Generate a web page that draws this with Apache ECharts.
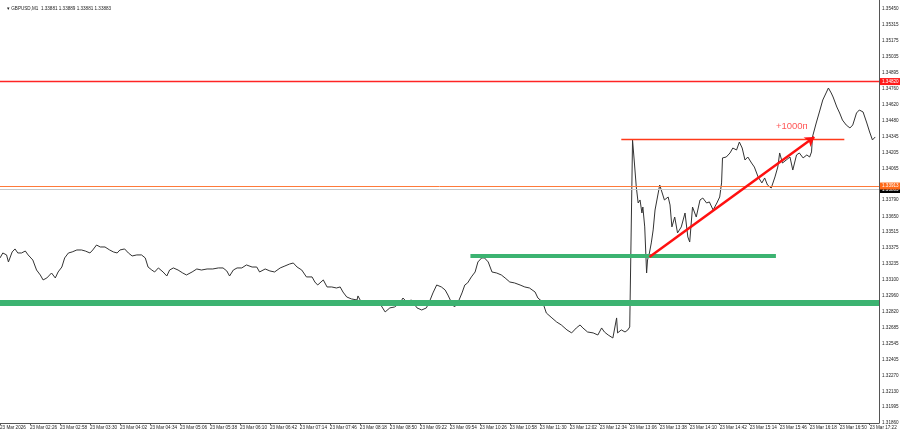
<!DOCTYPE html>
<html><head><meta charset="utf-8">
<script src="https://cdn.jsdelivr.net/npm/echarts@6/dist/echarts.min.js"></script>
<style>html,body{margin:0;padding:0;background:#fff}#c{width:900px;height:432px}</style>
</head><body><div id="c"></div>
<script>
const startTime = "01:54";
const dayLabel = "23 Mar";
const firstLabel = "23 Mar 2026";
const titleText = "\u25BE GBPUSD,M1  1.33881 1.33889 1.33881 1.33883";

const times = ["01:54","01:57","02:01","02:03","02:07","02:10","02:13","02:17","02:21","02:24","02:29","02:33","02:37","02:40","02:44","02:49","02:53","02:56","03:00","03:03","03:07","03:11","03:16","03:21","03:25","03:30","03:33","03:37","03:41","03:46","03:51","03:55","03:59","04:02","04:07","04:11","04:15","04:20","04:25","04:29","04:32","04:36","04:39","04:43","04:48","04:52","04:55","04:59","05:04","05:09","05:13","05:19","05:24","05:29","05:35","05:41","05:47","05:52","05:56","05:59","06:03","06:07","06:12","06:17","06:23","06:28","06:31","06:37","06:42","06:47","06:53","06:58","07:03","07:07","07:11","07:16","07:21","07:27","07:30","07:33","07:39","07:43","07:48","07:53","07:57","08:00","08:04","08:09","08:15","08:16","08:20","08:23","08:29","08:34","08:39","08:45","08:50","08:55","09:01","09:04","09:08","09:13","09:19","09:24","09:29","09:33","09:36","09:40","09:45","09:49","09:52","09:56","09:59","10:03","10:07","10:10","10:13","10:17","10:21","10:24","10:28","10:31","10:35","10:39","10:44","10:49","10:53","10:58","11:03","11:09","11:14","11:19","11:25","11:28","11:33","11:37","11:43","11:48","11:53","11:59","12:04","12:09","12:13","12:16","12:21","12:27","12:32","12:36","12:39","12:43","12:48","12:52","12:53","12:57","13:01","13:04","13:06","13:08","13:09","13:11","13:13","13:15","13:17","13:19","13:20","13:22","13:24","13:25","13:27","13:29","13:31","13:33","13:35","13:38","13:40","13:43","13:47","13:49","13:51","13:54","13:57","14:01","14:05","14:08","14:10","14:13","14:17","14:21","14:24","14:28","14:31","14:35","14:39","14:42","14:44","14:45","14:49","14:53","14:56","15:00","15:03","15:06","15:09","15:12","15:16","15:19","15:23","15:27","15:30","15:33","15:37","15:41","15:44","15:46","15:49","15:53","15:57","16:00","16:04","16:07","16:11","16:15","16:18","16:20","16:21","16:25","16:29","16:32","16:36","16:38","16:41","16:43","16:47","16:50","16:53","16:57","17:01","17:04","17:08","17:11","17:15","17:19","17:22","17:25","17:28"];

const prices = [1.33289,1.33332,1.33315,1.33254,1.33341,1.33367,1.33332,1.33332,1.33349,1.33315,1.33271,1.33184,1.33141,1.33098,1.33115,1.33158,1.33115,1.33167,1.33210,1.33289,1.33332,1.33341,1.33358,1.33358,1.33349,1.33332,1.33358,1.33401,1.33384,1.33384,1.33358,1.33341,1.33332,1.33358,1.33367,1.33332,1.33306,1.33315,1.33315,1.33289,1.33210,1.33184,1.33167,1.33202,1.33167,1.33132,1.33184,1.33202,1.33184,1.33158,1.33141,1.33167,1.33193,1.33184,1.33193,1.33193,1.33202,1.33202,1.33176,1.33132,1.33184,1.33202,1.33202,1.33228,1.33210,1.33210,1.33167,1.33193,1.33176,1.33167,1.33202,1.33219,1.33236,1.33245,1.33210,1.33184,1.33124,1.33124,1.33080,1.33054,1.33098,1.33037,1.33037,1.33028,1.33037,1.32993,1.32950,1.32933,1.32924,1.32959,1.32898,1.32907,1.32907,1.32915,1.32898,1.32820,1.32855,1.32863,1.32898,1.32941,1.32907,1.32924,1.32855,1.32837,1.32855,1.32924,1.32985,1.33054,1.33037,1.33011,1.32967,1.32898,1.32863,1.32907,1.32985,1.33054,1.33072,1.33124,1.33167,1.33254,1.33289,1.33289,1.33254,1.33167,1.33158,1.33141,1.33115,1.33080,1.33072,1.33054,1.33037,1.33028,1.32993,1.32941,1.32907,1.32811,1.32768,1.32733,1.32707,1.32664,1.32638,1.32681,1.32707,1.32681,1.32646,1.32638,1.32620,1.32681,1.32646,1.32620,1.32594,1.32768,1.32638,1.32664,1.32646,1.32664,1.32690,1.33766,1.34313,1.34113,1.33905,1.33766,1.33792,1.33679,1.33731,1.33558,1.33158,1.33271,1.33332,1.33419,1.33532,1.33705,1.33792,1.33922,1.33905,1.33792,1.33818,1.33749,1.33558,1.33644,1.33506,1.33558,1.33679,1.33471,1.33427,1.33731,1.33644,1.33792,1.33809,1.33766,1.33775,1.33705,1.33766,1.33818,1.33940,1.34157,1.34165,1.34200,1.34243,1.34226,1.34295,1.34243,1.34139,1.34165,1.34113,1.34078,1.33992,1.33940,1.33983,1.33922,1.33896,1.33992,1.34078,1.34200,1.34113,1.34139,1.34165,1.34052,1.34183,1.34200,1.34157,1.34183,1.34165,1.34209,1.34339,1.34460,1.34573,1.34660,1.34729,1.34764,1.34721,1.34686,1.34599,1.34547,1.34486,1.34443,1.34417,1.34443,1.34547,1.34573,1.34556,1.34460,1.34382,1.34313,1.34339];

const yTicks = [1.35450,1.35315,1.35175,1.35035,1.34895,1.34760,1.34620,1.34480,1.34345,1.34205,1.34065,1.33790,1.33650,1.33515,1.33375,1.33235,1.33100,1.32960,1.32820,1.32685,1.32545,1.32405,1.32270,1.32130,1.31995,1.31860];
const xStep = 32;
const yMin = 1.31856, yMax = 1.35528, xMax = 938;

const redLevel = 1.34820;
const orangeLevel = 1.33913;
const bidLevel = 1.33883;
const greenLevel = 1.32902;
const greenShort = ["10:16", "15:42", 1.33306];
const redShort = ["12:57", "16:55", 1.34319];
const arrowFrom = ["13:27", 1.33297];
const arrowTo = ["16:23", 1.34339];
const note = ["15:42", 1.34434, "+1000\u043F"];

function toMin(s){const a=s.split(':');const b=startTime.split(':');return (+a[0]*60+ +a[1])-(+b[0]*60+ +b[1]);}
function fmtMin(v){const b=startTime.split(':');let t=+b[0]*60+ +b[1]+v;const h=Math.floor(t/60),m=t%60;return (h<10?'0':'')+h+':'+(m<10?'0':'')+m;}

const data = times.map((t,i)=>[toMin(t), prices[i]]);
const FONT = 'Liberation Sans';
const small = 4.6;

function hLine(value, color, width, labelBg){
  const item = {yAxis:value, lineStyle:{color:color,width:width,type:'solid',opacity:1}, label:{show:false}};
  if(labelBg){ item.label = {show:true,position:'end',distance:1,formatter:()=>value.toFixed(5),backgroundColor:labelBg,color:'#fff',fontSize:small,fontFamily:FONT,padding:[1,2]}; }
  return item;
}

const chart = echarts.init(document.getElementById('c'), null, {renderer:'canvas'});
chart.setOption({
  animation:false,
  backgroundColor:'#ffffff',
  title:{text:titleText,left:2,top:1,textStyle:{fontSize:small,fontWeight:'normal',color:'#222',fontFamily:FONT}},
  grid:{left:0,right:21,top:0,bottom:9,containLabel:false,outerBoundsMode:'none'},
  xAxis:{type:'value',min:0,max:xMax,interval:xStep,
    axisLine:{show:true,onZero:false,lineStyle:{color:'#555',width:1}},
    axisTick:{show:true,length:2,lineStyle:{color:'#555'}},
    splitLine:{show:false},
    axisLabel:{show:true,align:'left',margin:2,fontSize:small,color:'#222',fontFamily:FONT,showMaxLabel:false,hideOverlap:false,
      formatter:v=> v===0?firstLabel:(v>=xMax?'':dayLabel+' '+fmtMin(v))}},
  yAxis:{type:'value',position:'right',min:yMin,max:yMax,
    axisLine:{show:true,onZero:false,lineStyle:{color:'#555',width:1}},
    axisTick:{show:false},
    splitLine:{show:false},
    axisLabel:{show:true,customValues:yTicks,margin:3,fontSize:small,color:'#222',fontFamily:FONT,formatter:v=>v.toFixed(5)}},
  series:[
    {type:'line',data:[],z:1,silent:true,
      markLine:{silent:true,symbol:['none','none'],animation:false,precision:5,
        data:[
          hLine(redLevel,'#ff2424',1.3,'#ff1a1a'),
          hLine(greenLevel,'#3cb371',6,null),
          [{coord:[toMin(greenShort[0]),greenShort[2]],lineStyle:{color:'#3cb371',width:4,type:'solid'},label:{show:false}},{coord:[toMin(greenShort[1]),greenShort[2]]}],
          [{coord:[toMin(redShort[0]),redShort[2]],lineStyle:{color:'#ff3a1a',width:1.3,type:'solid'},label:{show:false}},{coord:[toMin(redShort[1]),redShort[2]]}],
          hLine(bidLevel,'#c8c8c8',1,'#000000'),
          hLine(orangeLevel,'#ff7a3a',1,'#ff6a1a')
        ]}
    },
    {type:'line',data:data,z:3,showSymbol:false,silent:true,
      lineStyle:{color:'#333333',width:1},itemStyle:{color:'#333'}},
    {type:'line',data:[],z:4,silent:true,
      markLine:{silent:true,animation:false,precision:5,symbol:['none','arrow'],symbolSize:9,
        data:[[{coord:[toMin(arrowFrom[0]),arrowFrom[1]],lineStyle:{color:'#ff1010',width:2.5,type:'solid'},label:{show:false}},{coord:[toMin(arrowTo[0]),arrowTo[1]]}]]}},
    {type:'scatter',z:5,silent:true,symbolSize:0,data:[[toMin(note[0]),note[1]]],
      label:{show:true,position:'right',distance:0,formatter:()=>note[2],color:'#ff2a2a',fontSize:9.5,fontFamily:FONT}}
  ]
});
</script></body></html>
